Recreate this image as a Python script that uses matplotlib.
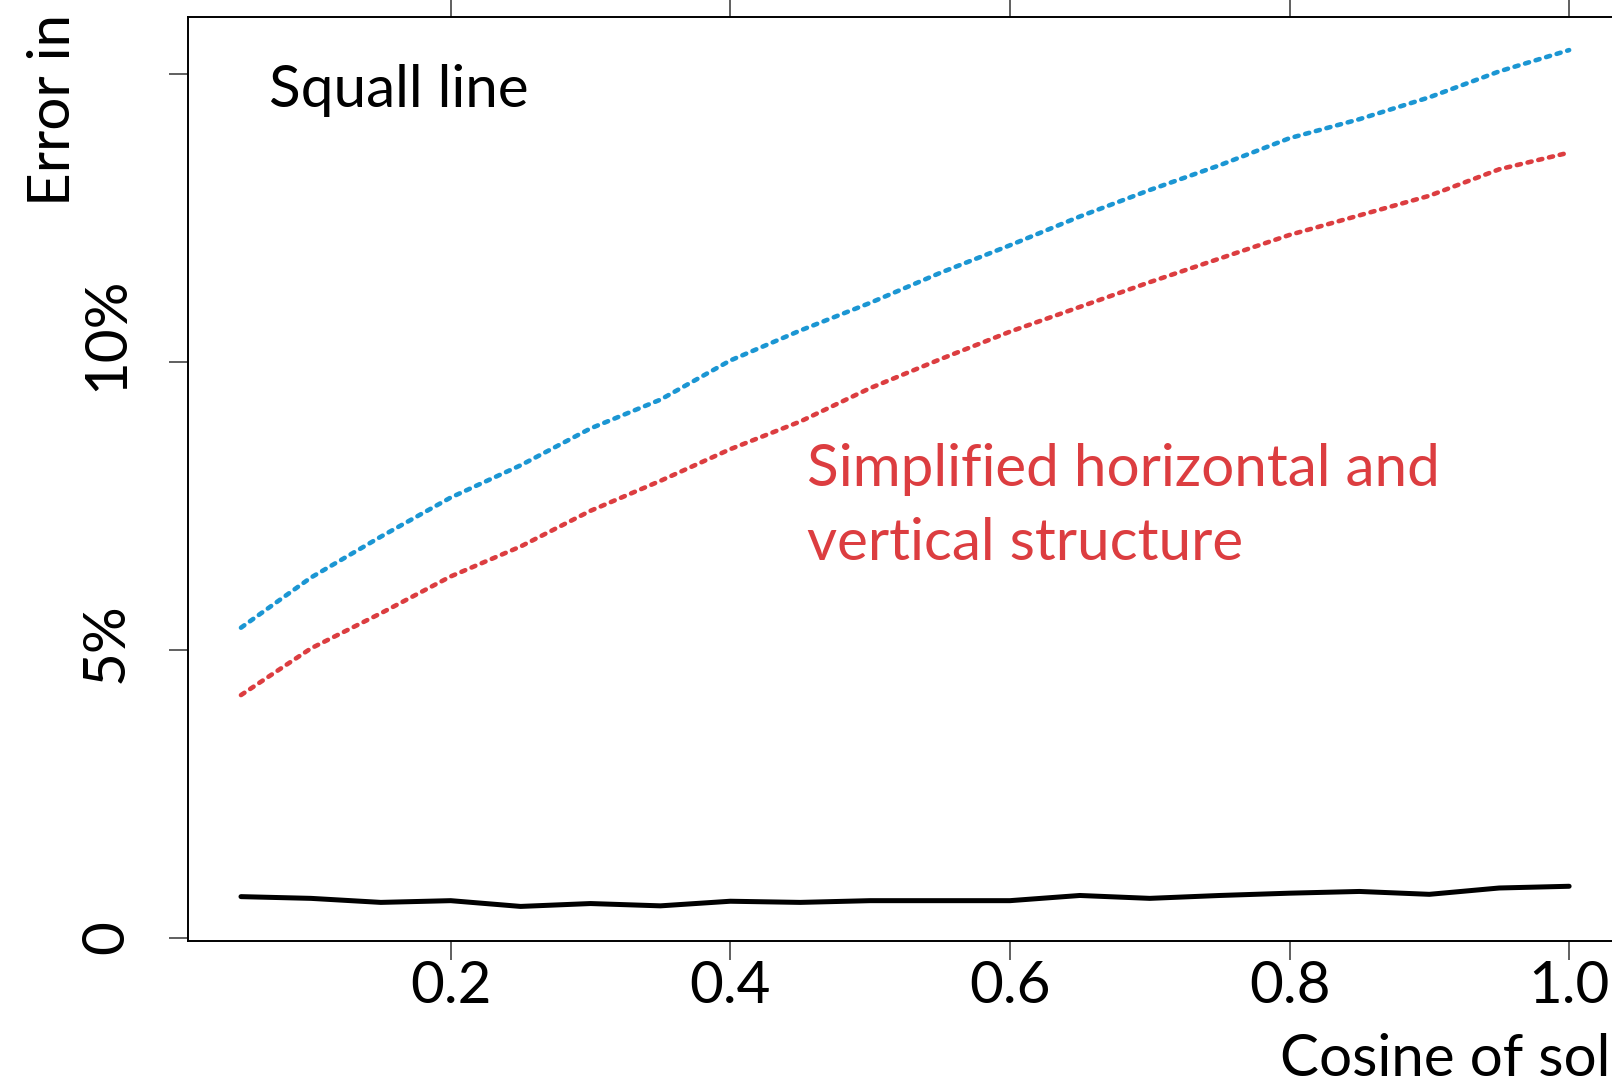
import matplotlib
matplotlib.use("Agg")
import matplotlib.pyplot as plt
import matplotlib.transforms as mtransforms

plt.rcParams['font.family'] = ['Lato', 'DejaVu Sans']

# Cosine of solar zenith angle
mu0 = [0.05, 0.10, 0.15, 0.20, 0.25, 0.30, 0.35, 0.40, 0.45, 0.50,
       0.55, 0.60, 0.65, 0.70, 0.75, 0.80, 0.85, 0.90, 0.95, 1.00]

# errors (fraction)
err_blue = [0.0538, 0.0625, 0.0696, 0.0764, 0.0820, 0.0884, 0.0934, 0.1002,
            0.1054, 0.1102, 0.1154, 0.1202, 0.1252, 0.1298, 0.1341, 0.1388,
            0.1421, 0.1459, 0.1504, 0.1541]
err_red = [0.0421, 0.0502, 0.0563, 0.0627, 0.0679, 0.0741, 0.0793, 0.0848,
           0.0896, 0.0954, 0.1004, 0.1052, 0.1095, 0.1138, 0.1179, 0.1220,
           0.1254, 0.1288, 0.1334, 0.1363]
err_black = [0.0071, 0.0068, 0.0061, 0.0064, 0.0054, 0.0059, 0.0055, 0.0063,
             0.0061, 0.0064, 0.0064, 0.0064, 0.0073, 0.0068, 0.0073, 0.0077,
             0.0080, 0.0075, 0.0086, 0.0089]

x_ticks = [0.2, 0.4, 0.6, 0.8, 1.0]
x_ticklabels = ["0.2", "0.4", "0.6", "0.8", "1.0"]
y_ticks = [0, 0.05, 0.10, 0.15]
y_ticklabels = ["0", "5%", "10%", ""]

blue = "#1b96d3"
red = "#dc3d40"
fs = 42

fig = plt.figure(figsize=(16.12, 10.92), dpi=100)
ax = fig.add_axes([0.1168, 0.1383, 1.0061 - 0.1168, 0.9842 - 0.1383])

ax.plot(mu0, err_blue, color=blue, lw=3.3, linestyle=(0, (0.9, 1.5)),
        dash_capstyle='round')
ax.plot(mu0, err_red, color=red, lw=3.3, linestyle=(0, (0.9, 1.5)),
        dash_capstyle='round')
ax.plot(mu0, err_black, color="black", lw=3.6, solid_capstyle='round')

ax.set_xlim(0.0123, 1.0377)
ax.set_ylim(-0.0006, 0.1598)

ax.set_xticks(x_ticks)
ax.set_xticklabels(x_ticklabels, fontsize=fs)
ax.set_yticks(y_ticks)
ax.set_yticklabels(y_ticklabels, fontsize=fs, rotation=90, va='center')
ax.tick_params(axis='x', direction='out', length=13.7, width=1.2,
               color='#444444', top=True, pad=0)
ax.tick_params(axis='y', direction='out', length=13.7, width=1.2,
               color='#444444', pad=26)

# the original labels sit a little off-centre on their ticks
shifts = [0, 7, 28, 0]
for lab, s in zip(ax.get_yticklabels(), shifts):
    off = mtransforms.ScaledTranslation(0, s / 100, fig.dpi_scale_trans)
    lab.set_transform(lab.get_transform() + off)

for sp in ax.spines.values():
    sp.set_linewidth(1.4)

ax.text(0.070, 0.1442, "Squall line", fontsize=fs, color="black",
        va='baseline', ha='left')
ax.text(0.455, 0.0784, "Simplified horizontal and", fontsize=fs, color=red,
        va='baseline', ha='left')
ax.text(0.455, 0.0656, "vertical structure", fontsize=fs, color=red,
        va='baseline', ha='left')

fig.text(0.794, 0.0147, "Cosine of solar zenith angle", fontsize=fs,
         ha='left', va='baseline')
fig.text(0.0434, 0.8114, "Error in", fontsize=fs, rotation=90,
         rotation_mode='anchor', ha='left', va='baseline')

fig.savefig("out.png", dpi=100)
